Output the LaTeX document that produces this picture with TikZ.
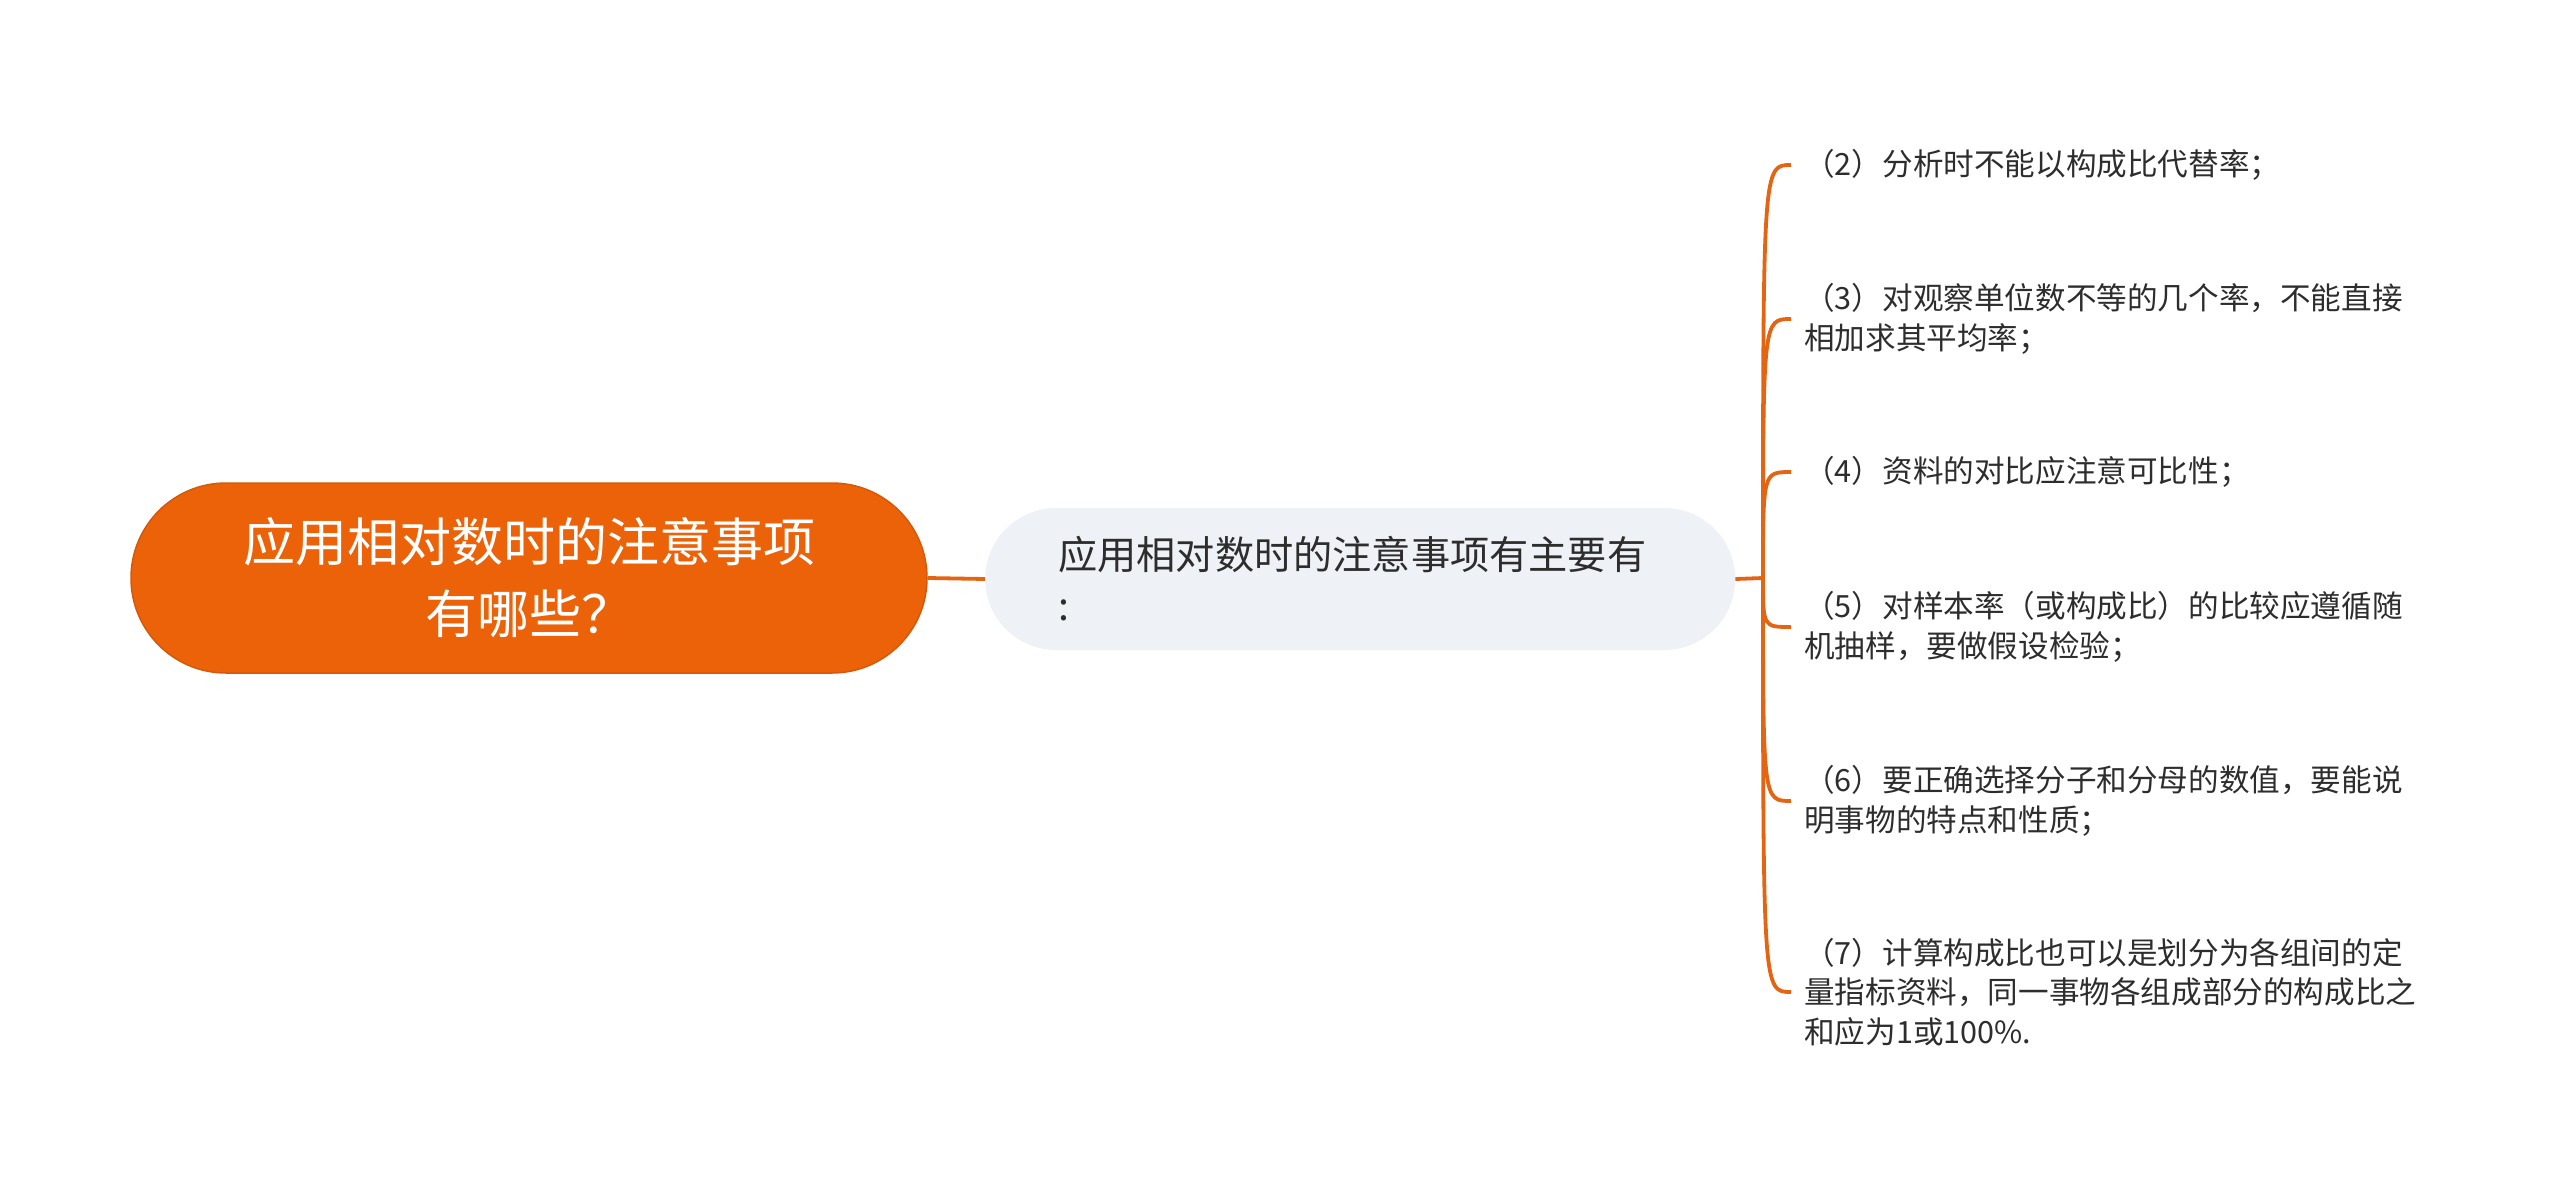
\documentclass[tikz,border=0pt]{standalone}
\usepackage{fontspec}
\setmainfont{Noto Sans CJK SC}
\definecolor{rootfill}{RGB}{236,98,8}
\definecolor{rootline}{RGB}{214,88,10}
\definecolor{midfill}{RGB}{238,241,245}
\definecolor{conncol}{RGB}{228,100,18}
\definecolor{txt}{RGB}{45,45,45}
\begin{document}
\begin{tikzpicture}[x=1pt,y=-1pt,
  rootbox/.style={fill=rootfill,draw=rootline,line width=1.5,rounded corners=95,
    minimum width=796,minimum height=190,inner sep=0,align=center,text=white,
    font=\fontsize{52}{72}\selectfont},
  midbox/.style={fill=midfill,rounded corners=71,minimum height=142,
    inner xsep=73,inner ysep=0,text width=604,align=left,text=txt,
    font=\fontsize{39.2}{51}\selectfont},
  leaf/.style={anchor=west,inner xsep=13,inner ysep=0,text width=640,align=left,text=txt,
    font=\fontsize{30.6}{39.5}\selectfont},
  conn/.style={draw=conncol,line width=3.8}]
\useasboundingbox (0,0) rectangle (2560,1197);
\fill[white] (0,0) rectangle (2560,1197);

\node[rootbox] (root) at (529,578) {应用相对数时的注意事项\\有哪些？};
\node[midbox,anchor=west] (mid) at (985,579) {应用相对数时的注意事项有主要有\\:};

\coordinate (hub) at (1763,578);

\node[leaf] (l2) at (1791,165) {（2）分析时不能以构成比代替率；};
\node[leaf] (l3) at (1791,319) {（3）对观察单位数不等的几个率，不能直接\\相加求其平均率；};
\node[leaf] (l4) at (1791,472) {（4）资料的对比应注意可比性；};
\node[leaf] (l5) at (1791,627) {（5）对样本率（或构成比）的比较应遵循随\\机抽样，要做假设检验；};
\node[leaf] (l6) at (1791,801) {（6）要正确选择分子和分母的数值，要能说\\明事物的特点和性质；};
\node[leaf] (l7) at (1791,992) {（7）计算构成比也可以是划分为各组间的定\\量指标资料，同一事物各组成部分的构成比之\\和应为1或100\%.};

\draw[conn] (root.east) -- (mid.west);
\draw[conn] (mid.east) -- (hub);
\foreach \n in {l2,l3,l4,l5,l6,l7}
  \draw[conn] (hub) .. controls (hub |- \n.west) .. (\n.west);
\end{tikzpicture}
\end{document}
